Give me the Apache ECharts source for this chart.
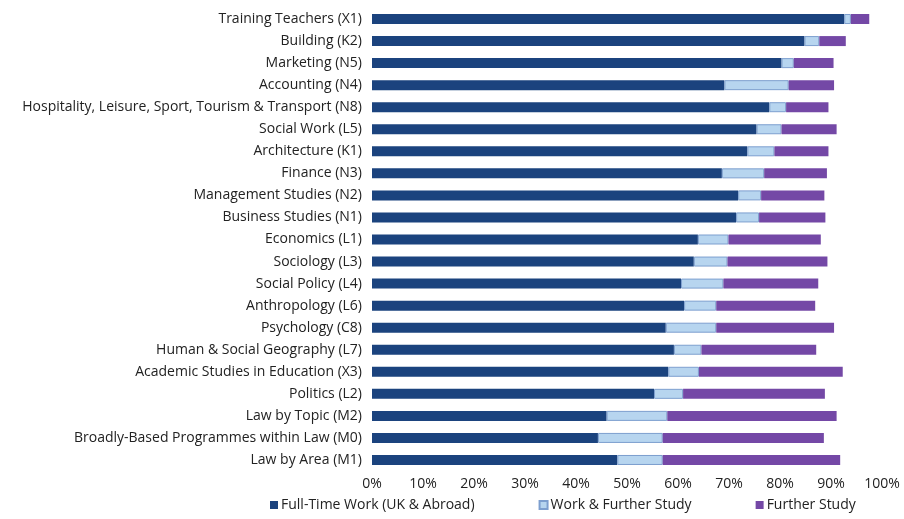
<!DOCTYPE html>
<html>
<head>
<meta charset="utf-8">
<title>Graduate destinations by subject</title>
<script src="https://cdn.jsdelivr.net/npm/echarts@6/dist/echarts.min.js"></script>
<style>
  html, body { margin: 0; padding: 0; background: #ffffff; }
  #chart { width: 904px; height: 519px; }
</style>
</head>
<body>
<div id="chart"></div>
<script>
// subjects, top to bottom
var subjects = [
  'Training Teachers (X1)', 'Building (K2)', 'Marketing (N5)', 'Accounting (N4)',
  'Hospitality, Leisure, Sport, Tourism & Transport (N8)', 'Social Work (L5)',
  'Architecture (K1)', 'Finance (N3)', 'Management Studies (N2)', 'Business Studies (N1)',
  'Economics (L1)', 'Sociology (L3)', 'Social Policy (L4)', 'Anthropology (L6)',
  'Psychology (C8)', 'Human & Social Geography (L7)', 'Academic Studies in Education (X3)',
  'Politics (L2)', 'Law by Topic (M2)', 'Broadly-Based Programmes within Law (M0)',
  'Law by Area (M1)'
];

// percentages
var fullTimeWork = [92.6, 84.8, 80.3, 69.1, 77.9, 75.4, 73.6, 68.6, 71.8, 71.4,
  63.9, 63.1, 60.6, 61.2, 57.6, 59.2, 58.1, 55.3, 46.0, 44.3, 48.1];
var workAndStudy = [1.3, 2.9, 2.4, 12.6, 3.3, 4.9, 5.3, 8.3, 4.5, 4.5,
  6.0, 6.6, 8.3, 6.3, 9.9, 5.4, 6.0, 5.7, 11.9, 12.7, 8.9];
var furtherStudy = [3.6, 5.2, 7.8, 8.9, 8.3, 10.8, 10.6, 12.3, 12.4, 13.0,
  18.1, 19.6, 18.6, 19.4, 23.1, 22.5, 28.2, 27.8, 33.2, 31.6, 34.8];

var seriesNames = ['Full-Time Work (UK & Abroad)', 'Work & Further Study', 'Further Study'];

var chart = echarts.init(document.getElementById('chart'));
var font = '"Open Sans", Lato, sans-serif';

var option = {
  animation: false,
  textStyle: { fontFamily: font },
  grid: {
    left: 372,
    right: 22,
    top: 8,
    bottom: 48
  },
  legend: {
    data: seriesNames,
    left: 265,
    bottom: 2,
    itemWidth: 8,
    itemHeight: 8,
    itemGap: 64,
    icon: 'rect',
    textStyle: { color: '#222', fontSize: 14, fontFamily: font, padding: [0, 0, 0, -2] }
  },
  xAxis: {
    type: 'value',
    min: 0,
    max: 100,
    interval: 10,
    axisLine: { show: false },
    axisTick: { show: false },
    splitLine: { show: false },
    axisLabel: {
      color: '#222',
      fontSize: 14,
      margin: 6,
      formatter: '{value}%'
    }
  },
  yAxis: {
    type: 'category',
    inverse: true,
    data: subjects,
    axisLine: { show: false },
    axisTick: { show: false },
    axisLabel: {
      color: '#222',
      fontSize: 14,
      margin: 10
    }
  },
  series: [
    {
      name: seriesNames[0],
      type: 'bar',
      stack: 'total',
      barWidth: 10,
      data: fullTimeWork,
      itemStyle: { color: '#1b437e' }
    },
    {
      name: seriesNames[1],
      type: 'bar',
      stack: 'total',
      barWidth: 10,
      data: workAndStudy,
      itemStyle: { color: '#b7d5ef', borderColor: '#7d9fcf', borderWidth: 1 }
    },
    {
      name: seriesNames[2],
      type: 'bar',
      stack: 'total',
      barWidth: 10,
      data: furtherStudy,
      itemStyle: { color: '#7448a6' }
    }
  ]
};

chart.setOption(option);
</script>
</body>
</html>
